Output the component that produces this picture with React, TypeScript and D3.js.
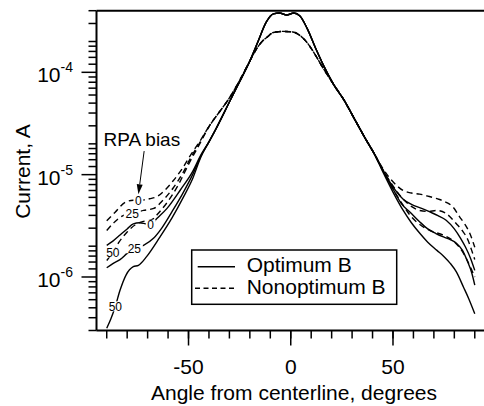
import React from 'react';
import * as d3 from 'd3';

type Pt = [number, number];

const W = 484;
const H = 406;
const FONT = '"Liberation Sans", Arial, Helvetica, sans-serif';

// ---- data: [angle (deg), current (A)] ----
const solidCore: Pt[] = [
  [-40, 2.09e-5], [-36, 2.95e-5], [-30, 5.13e-5], [-26, 7.41e-5], [-20, 1.29e-4],
  [-16, 2.0e-4], [-12, 3.09e-4], [-8.5, 3.72e-4], [-5.5, 3.8e-4], [-2, 3.63e-4],
  [1.5, 3.8e-4], [4.5, 3.55e-4], [8, 2.69e-4], [12.5, 1.66e-4], [16, 1.17e-4],
  [21, 7.59e-5], [26, 5.37e-5], [31, 3.55e-5], [36, 2.34e-5], [41, 1.58e-5],
];
const dashedCore: Pt[] = [
  [-40, 2.95e-5], [-35, 4.07e-5], [-30, 5.62e-5], [-25, 8.32e-5], [-20, 1.29e-4],
  [-17, 1.66e-4], [-14, 2.0e-4], [-11.5, 2.21e-4], [-8.5, 2.45e-4], [-4, 2.51e-4],
  [1, 2.48e-4], [4.5, 2.29e-4], [8, 1.95e-4], [12, 1.48e-4], [15, 1.17e-4],
  [21, 7.59e-5], [26, 5.37e-5], [31, 3.55e-5], [36, 2.34e-5], [41, 1.58e-5],
];

const solid0Left: Pt[] = [
  [-90, 2.04e-6], [-87, 2.24e-6], [-83.5, 2.57e-6], [-80, 2.95e-6], [-77, 3.31e-6],
  [-74, 3.39e-6], [-71, 3.31e-6], [-68.5, 3.24e-6], [-65.5, 3.72e-6], [-60.5, 4.68e-6],
  [-54, 7.08e-6], [-48, 1.07e-5], [-44, 1.55e-5],
];
const solid25Left: Pt[] = [
  [-90, 1.23e-6], [-87, 1.35e-6], [-83.5, 1.48e-6], [-80, 1.7e-6], [-76.5, 1.91e-6],
  [-72, 2.04e-6], [-67, 2.4e-6], [-63, 3.02e-6], [-58, 4.37e-6], [-53, 6.46e-6],
  [-48, 1.0e-5], [-44, 1.51e-5],
];
const solid50Left: Pt[] = [
  [-90, 3.16e-7], [-88, 3.89e-7], [-86, 5.01e-7], [-83.5, 7.41e-7], [-80.5, 1.05e-6],
  [-77, 1.26e-6], [-74.5, 1.3e-6], [-70.5, 1.58e-6], [-64, 2.45e-6], [-58, 3.8e-6],
  [-52.5, 6.03e-6], [-48, 9.12e-6], [-44, 1.48e-5],
];
const solid0Right: Pt[] = [
  [45, 1.12e-5], [50, 7.59e-6], [55, 5.75e-6], [60, 5.01e-6], [64, 4.68e-6],
  [68, 4.32e-6], [72, 3.98e-6], [76, 3.59e-6], [80, 2.95e-6], [83, 2.4e-6],
  [85.5, 1.95e-6], [88, 1.51e-6], [90, 1.16e-6],
];
const solid25Right: Pt[] = [
  [45, 1.1e-5], [50, 7.24e-6], [54, 5.25e-6], [58.5, 4.27e-6], [63, 3.47e-6],
  [67, 2.95e-6], [71, 2.66e-6], [75, 2.45e-6], [78, 2.32e-6], [81, 2.14e-6],
  [84, 1.82e-6], [86.5, 1.41e-6], [88.5, 1.1e-6], [90, 8.32e-7],
];
const solid50Right: Pt[] = [
  [45, 1.07e-5], [50, 6.76e-6], [55, 4.47e-6], [59, 3.39e-6], [63, 2.69e-6],
  [67, 2.19e-6], [71.5, 1.82e-6], [75, 1.58e-6], [78, 1.36e-6], [81, 1.12e-6],
  [84.5, 7.94e-7], [87, 6.17e-7], [90, 4.37e-7],
];

const dashed0Left: Pt[] = [
  [-90, 3.55e-6], [-86, 4.27e-6], [-81, 5.37e-6], [-77, 5.62e-6], [-74.5, 5.62e-6],
  [-69, 5.82e-6], [-65, 6.17e-6], [-62, 6.92e-6], [-57.5, 8.71e-6], [-53, 1.15e-5],
  [-49, 1.55e-5], [-44, 2.19e-5],
];
const dashed25Left: Pt[] = [
  [-90, 2.85e-6], [-86, 3.47e-6], [-82, 3.98e-6], [-77.5, 4.17e-6], [-72, 4.47e-6],
  [-67, 4.68e-6], [-62.5, 5.62e-6], [-57.5, 7.41e-6], [-53, 1.02e-5], [-49, 1.45e-5],
  [-44, 2.14e-5],
];
const dashed50Left: Pt[] = [
  [-90, 1.45e-6], [-87, 1.74e-6], [-84, 2.19e-6], [-80, 2.75e-6], [-76, 3.24e-6],
  [-72.5, 3.47e-6], [-68, 3.63e-6], [-64, 4.37e-6], [-60, 5.5e-6], [-55, 7.94e-6],
  [-50, 1.26e-5], [-44, 2.09e-5],
];
const dashed0Right: Pt[] = [
  [45, 1.15e-5], [50, 8.51e-6], [55, 7.0e-6], [59, 6.61e-6], [63, 6.46e-6],
  [67, 6.17e-6], [71.5, 5.82e-6], [76, 5.37e-6], [79.5, 4.79e-6], [82.5, 3.89e-6],
  [85, 3.31e-6], [87.5, 2.69e-6], [90, 1.95e-6],
];
const dashed25Right: Pt[] = [
  [45, 1.12e-5], [50, 7.76e-6], [55, 5.75e-6], [59, 4.9e-6], [63, 4.47e-6],
  [67, 4.37e-6], [71.5, 4.47e-6], [76, 4.17e-6], [81, 3.31e-6], [84, 2.82e-6],
  [86.5, 2.34e-6], [88.5, 1.82e-6], [90, 1.48e-6],
];
const dashed50Right: Pt[] = [
  [45, 1.1e-5], [50, 7.24e-6], [55, 5.01e-6], [58.5, 3.98e-6], [62, 3.39e-6],
  [68, 2.85e-6], [74.5, 2.57e-6], [80, 2.21e-6], [84.5, 1.7e-6], [88.5, 1.17e-6],
  [90, 1.0e-6],
];

const xMinorTicks = [-90, -80, -70, -60, -50, -40, -30, -20, -10, 0, 10, 20, 30, 40, 50, 60, 70, 80, 90];
const xMajorTicks = [-50, 0, 50];
const yMajorExponents = [-6, -5, -4];
const yMinorMantissas = [1.2, 1.4, 1.6, 1.8, 2, 3, 4, 5, 6, 7, 8, 9];

const legendItems = [
  { label: 'Optimum B', dashed: false },
  { label: 'Nonoptimum B', dashed: true },
];

const seriesList = [
  { key: 'solid0', dashed: false, pts: [...solid0Left, ...solidCore, ...solid0Right] },
  { key: 'solid25', dashed: false, pts: [...solid25Left, ...solidCore, ...solid25Right] },
  { key: 'solid50', dashed: false, pts: [...solid50Left, ...solidCore, ...solid50Right] },
  { key: 'dashed0', dashed: true, pts: [...dashed0Left, ...dashedCore, ...dashed0Right] },
  { key: 'dashed25', dashed: true, pts: [...dashed25Left, ...dashedCore, ...dashed25Right] },
  { key: 'dashed50', dashed: true, pts: [...dashed50Left, ...dashedCore, ...dashed50Right] },
];

const curveLabels = [
  { key: 'dashed0', angle: -74.5, text: '0' },
  { key: 'dashed25', angle: -77.5, text: '25' },
  { key: 'solid0', angle: -68.5, text: '0' },
  { key: 'dashed50', angle: -87, text: '50' },
  { key: 'solid25', angle: -76.5, text: '25' },
  { key: 'solid50', angle: -85.8, text: '50' },
];

export default function App() {
  const x = d3.scaleLinear().domain([-95, 95]).range([96.5, 485]);
  const y = d3.scaleLog().domain([3e-7, 4e-4]).range([330.5, 10.7]);
  const line = d3
    .line<Pt>()
    .x((d) => x(d[0]))
    .y((d) => y(d[1]))
    .curve(d3.curveMonotoneX);

  const interp = (pts: Pt[], a: number) => {
    for (let i = 0; i < pts.length - 1; i++) {
      const [a0, v0] = pts[i];
      const [a1, v1] = pts[i + 1];
      if (a >= a0 && a <= a1) {
        const t = (a - a0) / (a1 - a0);
        return Math.pow(10, Math.log10(v0) + t * (Math.log10(v1) - Math.log10(v0)));
      }
    }
    return pts[0][1];
  };

  const [y0, y1] = y.domain();
  const yMinor: number[] = [];
  for (let e = -7; e <= -4; e++) {
    for (const m of yMinorMantissas) {
      const v = m * Math.pow(10, e);
      if (v >= y0 * 0.999 && v <= y1 * 1.001) yMinor.push(v);
    }
  }

  const axisLeft = x(-95);
  const top = y(4e-4);
  const bottom = y(3e-7);

  const labelPos = curveLabels.map((l) => {
    const s = seriesList.find((q) => q.key === l.key)!;
    return { ...l, px: x(l.angle), py: y(interp(s.pts, l.angle)) };
  });
  const arrowTarget = labelPos[0];
  const ax0 = x(-71.7);
  const ay0 = y(1.7e-5);
  const ax1 = arrowTarget.px;
  const ay1 = arrowTarget.py - 6;
  const ang = Math.atan2(ay1 - ay0, ax1 - ax0);
  const hl = 10;
  const hw = 3;
  const bx = ax1 - hl * Math.cos(ang);
  const by = ay1 - hl * Math.sin(ang);
  const head = [
    [ax1, ay1],
    [bx + hw * Math.sin(ang), by - hw * Math.cos(ang)],
    [bx - hw * Math.sin(ang), by + hw * Math.cos(ang)],
  ]
    .map((p) => p.join(','))
    .join(' ');

  return (
    <svg
      width={W}
      height={H}
      style={{ position: 'absolute', left: 0, top: 0, background: '#fff' }}
      fontFamily={FONT}
    >
      <rect x={0} y={0} width={W} height={H} fill="#fff" />
      {/* curves */}
      {seriesList.map((s) => (
        <path
          key={s.key}
          d={line(s.pts) || ''}
          fill="none"
          stroke="#000"
          strokeWidth={1.4}
          strokeDasharray={s.dashed ? '6,4' : undefined}
        />
      ))}
      {/* curve labels */}
      {labelPos.map((l) => {
        const w = l.text.length * 7 + 3;
        return (
          <g key={l.key}>
            <rect x={l.px - w / 2} y={l.py - 5} width={w} height={10} fill="#fff" />
            <text x={l.px} y={l.py + 4.3} fontSize={12} textAnchor="middle" fill="#000">
              {l.text}
            </text>
          </g>
        );
      })}
      {/* annotation */}
      <text x={x(-91.6)} y={y(1.92e-5)} fontSize={19} fill="#000">
        RPA bias
      </text>
      <line x1={ax0} y1={ay0} x2={bx} y2={by} stroke="#000" strokeWidth={1} />
      <polygon points={head} fill="#000" />

      {/* frame */}
      <line x1={axisLeft} y1={top} x2={W} y2={top} stroke="#000" strokeWidth={2} />
      <line x1={axisLeft} y1={bottom} x2={W} y2={bottom} stroke="#000" strokeWidth={2} />
      <line x1={axisLeft} y1={top} x2={axisLeft} y2={bottom} stroke="#000" strokeWidth={2} />

      {/* x ticks */}
      {xMinorTicks.map((t) => (
        <line key={'xm' + t} x1={x(t)} x2={x(t)} y1={bottom} y2={bottom + 8} stroke="#000" strokeWidth={1.5} />
      ))}
      {xMajorTicks.map((t) => (
        <g key={'xM' + t}>
          <line x1={x(t)} x2={x(t)} y1={bottom} y2={bottom + 15} stroke="#000" strokeWidth={1.5} />
          <text x={x(t)} y={374} fontSize={21} textAnchor="middle" fill="#000">
            {t < 0 ? '-' + Math.abs(t) : String(t)}
          </text>
        </g>
      ))}
      {/* y ticks */}
      {yMinor.map((v, i) => (
        <line key={'ym' + i} x1={axisLeft - 8} x2={axisLeft} y1={y(v)} y2={y(v)} stroke="#000" strokeWidth={1.5} />
      ))}
      {yMajorExponents.map((e) => {
        const v = Math.pow(10, e);
        return (
          <g key={'yM' + e}>
            <line x1={axisLeft - 15} x2={axisLeft} y1={y(v)} y2={y(v)} stroke="#000" strokeWidth={1.5} />
            <text x={73} y={y(v) + 10} fontSize={21} textAnchor="end" fill="#000">
              10
              <tspan fontSize={14} dy={-10}>
                {'-' + Math.abs(e)}
              </tspan>
            </text>
          </g>
        );
      })}

      {/* axis titles */}
      <text x={294} y={400} fontSize={21} textAnchor="middle" fill="#000">
        Angle from centerline, degrees
      </text>
      <text
        transform={`translate(30,${(top + bottom) / 2 + 1}) rotate(-90)`}
        fontSize={21}
        textAnchor="middle"
        fill="#000"
      >
        Current, A
      </text>

      {/* legend */}
      <rect x={191.7} y={250} width={205} height={54.3} fill="#fff" stroke="#000" strokeWidth={1.5} />
      {legendItems.map((it, i) => (
        <g key={it.label}>
          <line
            x1={it.dashed ? 195 : 197.7}
            x2={235}
            y1={266.7 + i * 21.6}
            y2={266.7 + i * 21.6}
            stroke="#000"
            strokeWidth={1.4}
            strokeDasharray={it.dashed ? '5,3.5' : undefined}
          />
          <text x={246.7} y={272.3 + i * 22} fontSize={21} fill="#000">
            {it.label}
          </text>
        </g>
      ))}
    </svg>
  );
}
